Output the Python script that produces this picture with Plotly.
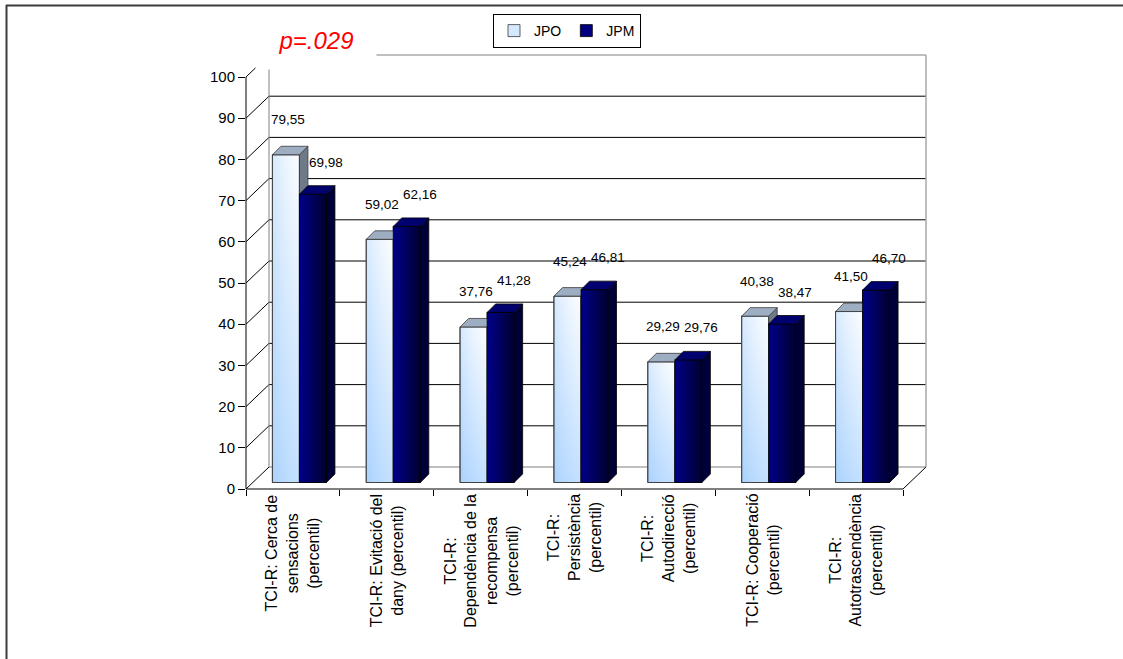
import plotly.graph_objects as go

# ---------------- data ----------------
categories = [
    "TCI-R: Cerca de<br>sensacions<br>(percentil)",
    "TCI-R: Evitació del<br>dany (percentil)",
    "TCI-R:<br>Dependència de la<br>recompensa<br>(percentil)",
    "TCI-R:<br>Persistència<br>(percentil)",
    "TCI-R:<br>Autodirecció<br>(percentil)",
    "TCI-R: Cooperació<br>(percentil)",
    "TCI-R:<br>Autotrascendència<br>(percentil)",
]
jpo = [79.55, 59.02, 37.76, 45.24, 29.29, 40.38, 41.50]
jpm = [69.98, 62.16, 41.28, 46.81, 29.76, 38.47, 46.70]
series_names = ["JPO", "JPM"]
y_ticks = [0, 10, 20, 30, 40, 50, 60, 70, 80, 90, 100]
p_label = "p=.029"

# ---------------- layout constants (pixels) ----------------
FIG_W, FIG_H = 1123, 659
ML, MR, MT, MB = 246, 195, 54, 170
PW = FIG_W - ML - MR
PH = FIG_H - MT - MB
n = len(categories)
PXX = 657.0 / n          # pixels per category on the front plane
PXY = 412.0 / 100.0      # pixels per y unit
WALL_DX = 23.0 / PXX     # depth offset of the back wall
WALL_DY = 22.0 / PXY
BAR_W = 27.0 / PXX
FD_X = 6.5 / PXX         # bars' front face depth
FD_Y = 6.5 / PXY
SD_X = 8.5 / PXX         # bar depth (side/top faces)
SD_Y = 8.5 / PXY
FONT = "Liberation Sans, Arial, sans-serif"


def px2paper_x(px):
    return (px - ML) / PW


def py2paper_y(py):
    return (FIG_H - MB - py) / PH


styles = {
    "JPO": dict(legend="#D4E8FF", line="#3A3A3A", side="#6E7A88", top="#9DAEC2",
                grad_v=[[0, "#AFD5FF"], [1, "#FAFCFF"]],
                grad_h=[[0, "rgba(160,205,252,0.40)"], [1, "rgba(255,255,255,0.25)"]],
                offset=-BAR_W + FD_X, label_dx=2, label_dy=35),
    "JPM": dict(legend="#000080", line="#000000", side="#000038", top="#00006E",
                grad_v=None,
                grad_h=[[0, "#00008A"], [1, "#000030"]],
                offset=FD_X, label_dx=13, label_dy=32),
}

fig = go.Figure()
xs = list(range(n))

# front faces drawn with the bar trace (also gives the legend)
for name, vals in zip(series_names, [jpo, jpm]):
    st = styles[name]
    fig.add_trace(go.Bar(
        x=xs, y=vals, base=FD_Y, width=BAR_W, offset=st["offset"], name=name,
        marker=dict(color=st["legend"], line=dict(color=st["line"], width=0.8)),
        hoverinfo="skip",
    ))

# pseudo-3D faces, computed from the data
annotations = []
for name, vals in zip(series_names, [jpo, jpm]):
    st = styles[name]
    for i, v in enumerate(vals):
        xl = i + st["offset"]
        xr = xl + BAR_W
        yb = FD_Y
        yt = v + FD_Y
        front_x = [xl, xr, xr, xl, xl]
        front_y = [yb, yb, yt, yt, yb]
        if st["grad_v"] is not None:
            fig.add_trace(go.Scatter(
                x=front_x, y=front_y, mode="lines", fill="toself",
                fillgradient=dict(type="vertical", colorscale=st["grad_v"]),
                line=dict(color=st["line"], width=0.8), showlegend=False, hoverinfo="skip"))
        fig.add_trace(go.Scatter(
            x=front_x, y=front_y, mode="lines", fill="toself",
            fillgradient=dict(type="horizontal", colorscale=st["grad_h"]),
            line=dict(color=st["line"], width=0.8), showlegend=False, hoverinfo="skip"))
        # side face
        fig.add_trace(go.Scatter(
            x=[xr, xr, xr + SD_X, xr + SD_X, xr],
            y=[yb, yt, yt + SD_Y, yb + SD_Y, yb],
            mode="lines", fill="toself", fillcolor=st["side"],
            line=dict(color=st["line"], width=0.8), showlegend=False, hoverinfo="skip"))
        # top face
        fig.add_trace(go.Scatter(
            x=[xl, xr, xr + SD_X, xl + SD_X, xl],
            y=[yt, yt, yt + SD_Y, yt + SD_Y, yt],
            mode="lines", fill="toself", fillcolor=st["top"],
            line=dict(color=st["line"], width=0.8), showlegend=False, hoverinfo="skip"))
        annotations.append(dict(
            x=xl + BAR_W / 2, y=yt, xref="x", yref="y",
            text=f"{v:.2f}".replace(".", ","), showarrow=False,
            xshift=st["label_dx"], yshift=st["label_dy"],
            font=dict(family=FONT, size=13.5, color="#000000")))

# category labels
for i, c in enumerate(categories):
    annotations.append(dict(
        x=i, y=py2paper_y(492), xref="x", yref="paper", text=c, showarrow=False,
        textangle=-90, xanchor="center", yanchor="top", align="center",
        font=dict(family=FONT, size=16, color="#000000")))

# p-value text (white box hides the top-left of the wall)
annotations.append(dict(
    x=px2paper_x(316), y=py2paper_y(40), xref="paper", yref="paper",
    text=f"<i>{p_label}</i>", showarrow=False, width=120, height=58,
    bgcolor="#FFFFFF", borderpad=0, xanchor="center", yanchor="middle",
    font=dict(family=FONT, size=24, color="#FF0000")))

# ---------------- wall / floor / axis lines ----------------
shapes = []
x_front_l = -0.5
x_front_r = n - 0.5
bx_l = x_front_l + WALL_DX
bx_r = x_front_r + WALL_DX
top_v = y_ticks[-1]
for v in y_ticks:
    shapes.append(dict(type="line", xref="x", yref="y", x0=x_front_l, y0=v,
                       x1=bx_l, y1=v + WALL_DY, line=dict(color="#000000", width=1), layer="below"))
    edge = v in (y_ticks[0], top_v)
    shapes.append(dict(type="line", xref="x", yref="y", x0=bx_l, y0=v + WALL_DY,
                       x1=bx_r, y1=v + WALL_DY,
                       line=dict(color="#808080" if edge else "#000000", width=1), layer="below"))
shapes.append(dict(type="line", xref="x", yref="y", x0=bx_l, y0=WALL_DY, x1=bx_l,
                   y1=top_v + WALL_DY, line=dict(color="#808080", width=1), layer="below"))
shapes.append(dict(type="line", xref="x", yref="y", x0=bx_r, y0=WALL_DY, x1=bx_r,
                   y1=top_v + WALL_DY, line=dict(color="#A8A8A8", width=1.5), layer="below"))
shapes.append(dict(type="line", xref="x", yref="y", x0=x_front_r, y0=0, x1=bx_r,
                   y1=WALL_DY, line=dict(color="#000000", width=1), layer="below"))
shapes.append(dict(type="line", xref="paper", yref="y", x0=0, x1=0, y0=0, y1=top_v,
                   line=dict(color="#000000", width=1)))
shapes.append(dict(type="line", xref="x", yref="paper", x0=x_front_l, x1=x_front_r, y0=0, y1=0,
                   line=dict(color="#000000", width=1)))
shapes.append(dict(type="line", xref="paper", yref="paper", x0=px2paper_x(6.5), x1=px2paper_x(6.5),
                   y0=py2paper_y(5), y1=py2paper_y(FIG_H), line=dict(color="#3C3C3C", width=2)))
shapes.append(dict(type="line", xref="paper", yref="paper", x0=px2paper_x(6), x1=px2paper_x(FIG_W),
                   y0=py2paper_y(5.5), y1=py2paper_y(5.5), line=dict(color="#3C3C3C", width=2)))

fig.update_layout(
    width=FIG_W, height=FIG_H,
    margin=dict(l=ML, r=MR, t=MT, b=MB, pad=0, autoexpand=False),
    paper_bgcolor="#FFFFFF", plot_bgcolor="#FFFFFF",
    barmode="overlay",
    font=dict(family=FONT, size=13, color="#000000"),
    xaxis=dict(range=[-0.5, -0.5 + PW / PXX], showgrid=False, zeroline=False, showline=False,
               tickmode="array", tickvals=[k - 0.5 for k in range(n + 1)],
               showticklabels=False, ticks="outside", ticklen=6, tickcolor="#000000", fixedrange=True),
    yaxis=dict(range=[0, PH / PXY], showgrid=False, zeroline=False, showline=False,
               tickmode="array", tickvals=y_ticks, ticktext=[str(t) for t in y_ticks],
               ticks="outside", ticklen=7, tickcolor="#000000",
               tickfont=dict(family=FONT, size=15, color="#000000"), fixedrange=True),
    legend=dict(orientation="h", x=px2paper_x(493), y=py2paper_y(14), xanchor="left", yanchor="top",
                bordercolor="#000000", borderwidth=1, bgcolor="#FFFFFF",
                font=dict(family=FONT, size=14, color="#000000"), itemwidth=30),
    shapes=shapes,
    annotations=annotations,
    showlegend=True,
)

fig.write_html("out.html")
